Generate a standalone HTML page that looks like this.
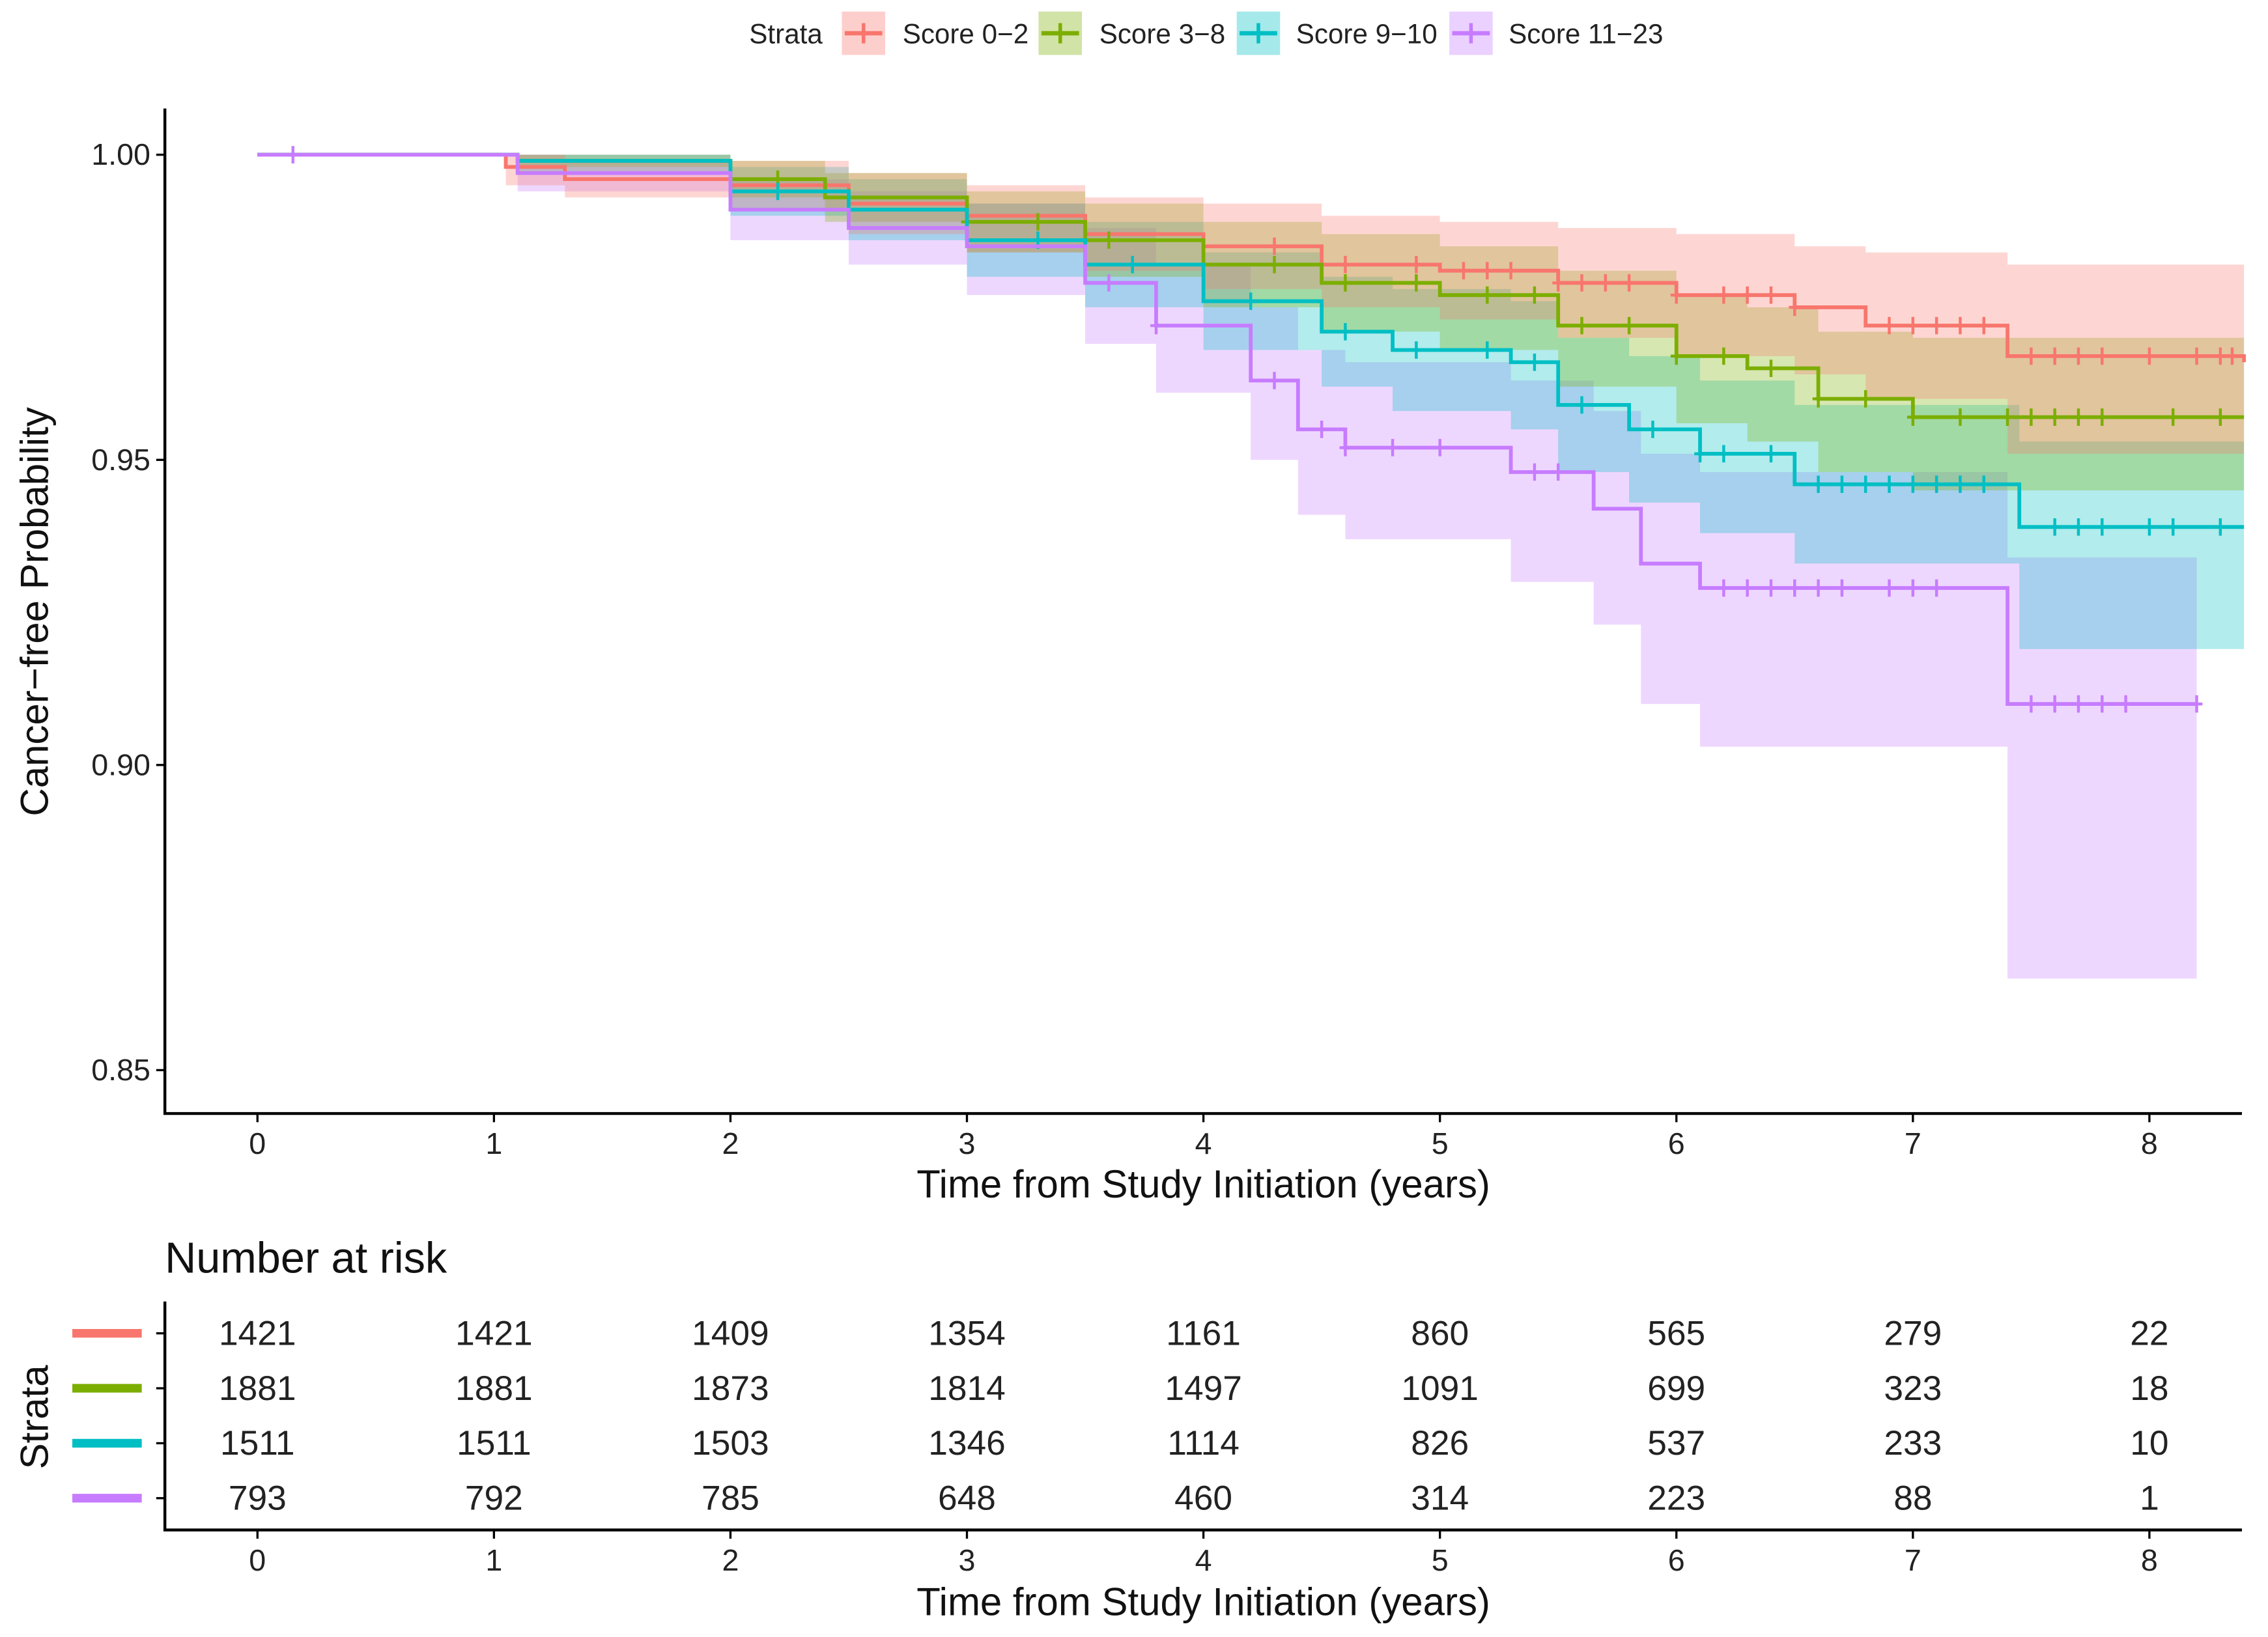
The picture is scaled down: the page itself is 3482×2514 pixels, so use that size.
<!DOCTYPE html>
<html><head><meta charset="utf-8"><style>
html,body{margin:0;padding:0;background:#fff}
svg{display:block;font-family:"Liberation Sans",sans-serif}
</style></head><body>
<svg id="chart" width="3482" height="2514" viewBox="0 0 1568 1132" preserveAspectRatio="none" xmlns="http://www.w3.org/2000/svg">
<rect width="1568" height="1132" fill="#fff"/>
<g id="legend" font-size="19" fill="#222">
 <text x="518" y="30">Strata</text>
</g>
<g id="bands"></g><g id="lines"></g><g id="axes"></g><g id="risk"></g>
</svg>
<script>
const NS="http://www.w3.org/2000/svg";
const names=["Score 0\u22122","Score 3\u22128","Score 9\u221210","Score 11\u221223"];
const colors=["#F8766D","#7CAE00","#00BFC4","#C77CFF"];
const xTicks=[0,1,2,3,4,5,6,7,8];
const yTicks=[0.85,0.90,0.95,1.00];
const yTickLabels=["0.85","0.90","0.95","1.00"];
const t0=[0,1.05,1.3,2.0,2.5,3.0,3.5,4.0,4.5,5.0,5.5,6.0,6.5,6.8,7.4,8.4];
const s0=[1,0.998,0.996,0.995,0.992,0.990,0.987,0.985,0.982,0.981,0.979,0.977,0.975,0.972,0.967,0.966];
const h0=[1,1,0.999,0.999,0.997,0.995,0.993,0.992,0.990,0.989,0.988,0.987,0.985,0.984,0.982,0.982];
const l0=[1,0.995,0.993,0.991,0.987,0.984,0.981,0.978,0.975,0.973,0.970,0.967,0.964,0.960,0.951,0.950];
const t1=[0,1.1,2.0,2.4,3.0,3.5,4.0,4.5,5.0,5.5,6.0,6.3,6.6,7.0,8.4];
const s1=[1,0.999,0.996,0.993,0.989,0.986,0.982,0.979,0.977,0.972,0.967,0.965,0.960,0.957,0.957];
const h1=[1,1,0.999,0.997,0.994,0.992,0.989,0.987,0.985,0.981,0.977,0.975,0.971,0.970,0.970];
const l1=[1,0.998,0.993,0.989,0.984,0.980,0.975,0.971,0.968,0.962,0.956,0.953,0.948,0.945,0.944];
const t2=[0,1.1,2.0,2.5,3.0,3.5,4.0,4.5,4.8,5.3,5.5,5.8,6.1,6.5,7.45,8.4];
const s2=[1,0.999,0.994,0.991,0.986,0.982,0.976,0.971,0.968,0.966,0.959,0.955,0.951,0.946,0.939,0.939];
const h2=[1,1,0.998,0.996,0.992,0.989,0.984,0.980,0.978,0.976,0.970,0.967,0.963,0.959,0.953,0.953];
const l2=[1,0.997,0.990,0.986,0.980,0.975,0.968,0.962,0.958,0.955,0.948,0.943,0.938,0.933,0.919,0.919];
const t3=[0,1.1,2.0,2.5,3.0,3.5,3.8,4.2,4.4,4.6,5.3,5.65,5.85,6.1,7.4,8.2];
const s3=[1,0.997,0.991,0.988,0.985,0.979,0.972,0.963,0.955,0.952,0.948,0.942,0.933,0.929,0.910,0.910];
const h3=[1,1,0.996,0.994,0.992,0.988,0.982,0.975,0.968,0.966,0.963,0.958,0.951,0.948,0.934,0.934];
const l3=[1,0.994,0.986,0.982,0.977,0.969,0.961,0.950,0.941,0.937,0.930,0.923,0.910,0.903,0.865,0.865];
const c0=[4.3,4.6,4.9,5.1,5.2,5.3,5.5,5.6,5.7,5.8,6.0,6.2,6.3,6.4,6.5,6.9,7.0,7.1,7.2,7.3,7.5,7.6,7.7,7.8,8.0,8.2,8.3,8.35];
const c1=[2.2,2.5,3.0,3.3,3.6,4.0,4.3,4.6,4.9,5.2,5.4,5.6,5.8,6.0,6.2,6.4,6.6,6.8,7.0,7.2,7.4,7.5,7.6,7.7,7.8,8.1,8.3];
const c2=[2.2,3.3,3.7,4.2,4.6,4.9,5.2,5.4,5.6,5.9,6.1,6.2,6.4,6.6,6.7,6.8,6.9,7.0,7.1,7.2,7.3,7.6,7.7,7.8,8.0,8.1,8.3];
const c3=[0.15,3.6,3.8,4.3,4.5,4.6,4.8,5.0,5.4,5.5,6.2,6.3,6.4,6.5,6.6,6.7,6.9,7.0,7.1,7.5,7.6,7.7,7.8,7.9,8.2];
const risk0=[1421,1421,1409,1354,1161,860,565,279,22];
const risk1=[1881,1881,1873,1814,1497,1091,699,323,18];
const risk2=[1511,1511,1503,1346,1114,826,537,233,10];
const risk3=[793,792,785,648,460,314,223,88,1];
const T=[t0,t1,t2,t3],S=[s0,s1,s2,s3],H=[h0,h1,h2,h3],L=[l0,l1,l2,l3],C=[c0,c1,c2,c3],R=[risk0,risk1,risk2,risk3];
const X=t=>178+t*163.5;
const Y=v=>107+(1-v)*4220;
function el(tag,attrs,parent){const e=document.createElementNS(NS,tag);for(const k in attrs)e.setAttribute(k,attrs[k]);parent.appendChild(e);return e;}
const gB=document.getElementById('bands'),gL=document.getElementById('lines'),gA=document.getElementById('axes'),gR=document.getElementById('risk'),gLeg=document.getElementById('legend');
function stepAt(ts,vs,t){let v=vs[0];for(let i=0;i<ts.length;i++){if(ts[i]<=t)v=vs[i];}return v;}
for(let k=3;k>=0;k--){
 const ts=T[k];
 let up="",dn="";
 for(let i=0;i<ts.length;i++){const xa=X(ts[i]),xb=X(i+1<ts.length?ts[i+1]:ts[i]);
  up+=(i?"L":"M")+xa+","+Y(H[k][i])+"L"+xb+","+Y(H[k][i]);
 }
 for(let i=ts.length-1;i>=0;i--){const xa=X(ts[i]),xb=X(i+1<ts.length?ts[i+1]:ts[i]);
  dn+="L"+xb+","+Y(L[k][i])+"L"+xa+","+Y(L[k][i]);
 }
 const b=el('path',{d:up+dn+"Z",fill:colors[k],'fill-opacity':0.3,stroke:'none'},gB);
 
 
}
for(let k=0;k<4;k++){
 const ts=T[k];let d="";
 for(let i=0;i<ts.length;i++){const xa=X(ts[i]),xb=X(i+1<ts.length?ts[i+1]:ts[i]);
  d+=(i?"L":"M")+xa+","+Y(S[k][i])+"L"+xb+","+Y(S[k][i]);}
 const p=el('path',{d:d,fill:'none',stroke:colors[k],'stroke-width':2.6},gL);
 
 
 C[k].forEach(t=>{const x=X(t),y=Y(stepAt(ts,S[k],t));
  const m=el('path',{d:`M${x-4},${y}h8M${x},${y-6}v12`,stroke:colors[k],'stroke-width':2},gL);
  
  });
}
el('path',{d:"M114,75V770H1550",stroke:'#000','stroke-width':2,fill:'none'},gA);
yTicks.forEach((v,i)=>{el('line',{x1:108,x2:114,y1:Y(v),y2:Y(v),stroke:'#000','stroke-width':1.5},gA);
 const t=el('text',{x:104,y:Y(v)+7,'text-anchor':'end','font-size':21,fill:'#222'},gA);t.textContent=yTickLabels[i];
 
 });
xTicks.forEach(v=>{el('line',{x1:X(v),x2:X(v),y1:770,y2:776,stroke:'#000','stroke-width':1.5},gA);
 const t=el('text',{x:X(v),y:798,'text-anchor':'middle','font-size':21,fill:'#222'},gA);t.textContent=v;
 
 });
let t=el('text',{x:832,y:828,'text-anchor':'middle','font-size':27,fill:'#111'},gA);t.textContent="Time from Study Initiation (years)";

t=el('text',{x:0,y:0,transform:'translate(33,423) rotate(-90)','text-anchor':'middle','font-size':27,fill:'#111'},gA);t.textContent="Cancer\u2212free Probability";

const legX=[582,718,855,1002],legTX=[624,760,896,1043];
for(let k=0;k<4;k++){
 el('rect',{x:legX[k],y:8,width:30,height:30,fill:colors[k],'fill-opacity':0.35},gLeg);
 el('line',{x1:legX[k]+2,x2:legX[k]+28,y1:23,y2:23,stroke:colors[k],'stroke-width':3},gLeg);
 el('line',{x1:legX[k]+15,x2:legX[k]+15,y1:16,y2:30,stroke:colors[k],'stroke-width':2.5},gLeg);
 const lt=el('text',{x:legTX[k],y:30,'font-size':19,fill:'#222'},gLeg);lt.textContent=names[k];
 
 
}
t=el('text',{x:114,y:880,'font-size':30,fill:'#111'},gR);t.textContent="Number at risk";

el('path',{d:"M114,900V1058H1550",stroke:'#000','stroke-width':2,fill:'none'},gR);
const rowY=[922,960,998,1036];
for(let k=0;k<4;k++){
 el('line',{x1:50,x2:98,y1:rowY[k],y2:rowY[k],stroke:colors[k],'stroke-width':6},gR);
 el('line',{x1:108,x2:114,y1:rowY[k],y2:rowY[k],stroke:'#000','stroke-width':1.5},gR);
 R[k].forEach((n,i)=>{const rt=el('text',{x:X(xTicks[i]),y:rowY[k]+8,'text-anchor':'middle','font-size':24,fill:'#222'},gR);rt.textContent=n;
  
  });
}
xTicks.forEach(v=>{el('line',{x1:X(v),x2:X(v),y1:1058,y2:1064,stroke:'#000','stroke-width':1.5},gR);
 const tt=el('text',{x:X(v),y:1086,'text-anchor':'middle','font-size':21,fill:'#222'},gR);tt.textContent=v;
 
 });
t=el('text',{x:832,y:1117,'text-anchor':'middle','font-size':27,fill:'#111'},gR);t.textContent="Time from Study Initiation (years)";

t=el('text',{x:0,y:0,transform:'translate(33,980) rotate(-90)','text-anchor':'middle','font-size':27,fill:'#111'},gR);t.textContent="Strata";

</script>
</body></html>
